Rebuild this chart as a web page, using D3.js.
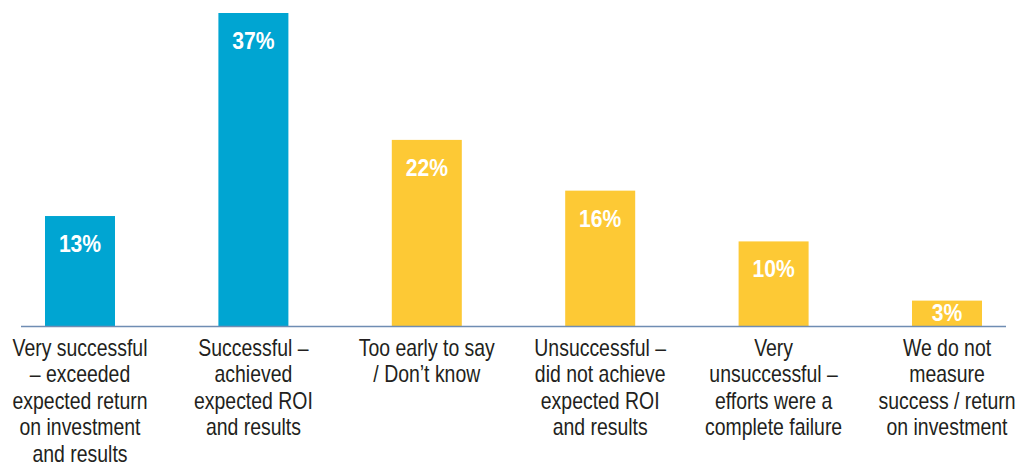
<!DOCTYPE html>
<html><head><meta charset="utf-8">
<script src="https://cdn.jsdelivr.net/npm/d3@7"></script>
<style>
html,body{margin:0;padding:0;background:#fff;}
svg{display:block;}
text{font-family:"Liberation Sans Narrow","Arial Narrow","Liberation Sans",sans-serif;}
</style></head>
<body>
<svg id="chart" width="1025" height="465"></svg>
<script>
const categories = [
  ["Very successful", "– exceeded", "expected return", "on investment", "and results"],
  ["Successful –", "achieved", "expected ROI", "and results"],
  ["Too early to say", "/ Don’t know"],
  ["Unsuccessful –", "did not achieve", "expected ROI", "and results"],
  ["Very", "unsuccessful –", "efforts were a", "complete failure"],
  ["We do not", "measure", "success / return", "on investment"]
];
const values = [13, 37, 22, 16, 10, 3];
const valueLabels = ["13%", "37%", "22%", "16%", "10%", "3%"];
const groups = ["success", "success", "other", "other", "other", "other"];

const colors = {success: "#00a5d2", other: "#fdc935"};
const svg = d3.select("#chart");
const baseY = 326;

const x = d3.scaleBand().domain(d3.range(values.length))
  .range([45, 982]).paddingInner(0.5963).paddingOuter(0);
const y = d3.scaleLinear().domain([0, 37]).range([baseY, 13]);

svg.selectAll("rect.bar").data(values).join("rect")
  .attr("class", "bar")
  .attr("x", (d, i) => x(i))
  .attr("y", d => y(d))
  .attr("width", x.bandwidth())
  .attr("height", d => baseY - y(d))
  .attr("fill", (d, i) => colors[groups[i]]);

svg.append("line")
  .attr("x1", 21).attr("x2", 1006)
  .attr("y1", baseY + 0.5).attr("y2", baseY + 0.5)
  .attr("stroke", "#6f8db3").attr("stroke-width", 1.6);

svg.selectAll("text.val").data(values).join("text")
  .attr("class", "val")
  .attr("transform", (d, i) => `translate(${x(i) + x.bandwidth() / 2},${Math.min(y(d) + 36, baseY - 5)}) scale(0.88,1)`)
  .attr("text-anchor", "middle")
  .attr("fill", "#fff")
  .attr("font-weight", "bold")
  .attr("font-size", 24)
  .text((d, i) => valueLabels[i]);

const cat = svg.selectAll("text.cat").data(categories).join("text")
  .attr("class", "cat")
  .attr("transform", (d, i) => `translate(${x(i) + x.bandwidth() / 2},356) scale(0.845,1)`)
  .attr("text-anchor", "middle")
  .attr("fill", "#231f20")
  .attr("font-size", 23);
cat.each(function(lines) {
  const t = d3.select(this);
  lines.forEach((ln, j) => {
    t.append("tspan")
      .attr("x", 0)
      .attr("y", j * 26.4)
      .text(ln);
  });
});
</script>
</body></html>
